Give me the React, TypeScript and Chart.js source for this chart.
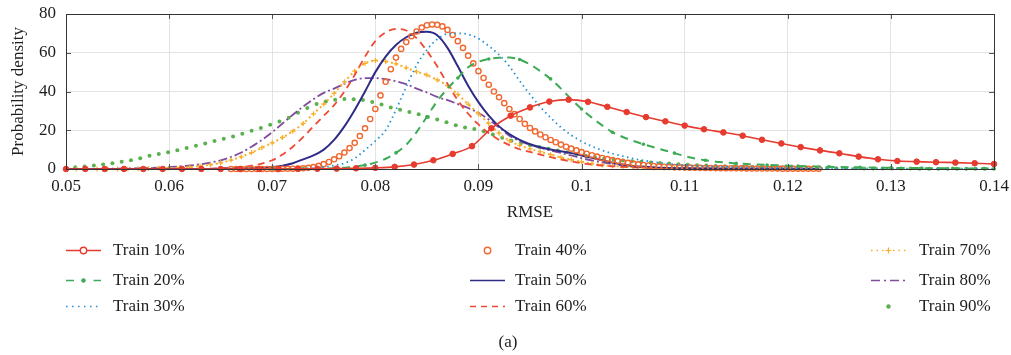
import { useEffect, useRef } from 'react';
import { Chart, registerables } from 'chart.js';

Chart.register(...registerables);

// ---------- tick labels ----------
const xTicks = [0.05, 0.06, 0.07, 0.08, 0.09, 0.1, 0.11, 0.12, 0.13, 0.14];
const yTicks = [0, 20, 40, 60, 80];

// ---------- x grids (RMSE) ----------
const rmseA = [0.050,0.051,0.052,0.053,0.054,0.055,0.056,0.057,0.058,0.059,0.060,0.061,0.062,0.063,0.064,0.065,0.066,0.067,0.068,0.069,0.070,0.071,0.072,0.073,0.074,0.075,0.076,0.077,0.078,0.079,0.080,0.081,0.082,0.083,0.084,0.085,0.086,0.087,0.088,0.089,0.090,0.091,0.092,0.093,0.094,0.095,0.096,0.097,0.098,0.099,0.100,0.101,0.102,0.103,0.104,0.105,0.106,0.107,0.108,0.109,0.110,0.111,0.112,0.113,0.114,0.115,0.116,0.117,0.118,0.119,0.120,0.121,0.122,0.123];
const rmseB = [0.070,0.071,0.072,0.073,0.074,0.075,0.076,0.077,0.078,0.079,0.080,0.081,0.082,0.083,0.084,0.085,0.086,0.087,0.088,0.089,0.090,0.091,0.092,0.093,0.094,0.095,0.096,0.097,0.098,0.099,0.100,0.101,0.102,0.103,0.104,0.105,0.106,0.107,0.108,0.109,0.110,0.111,0.112,0.113,0.114,0.115,0.116,0.117,0.118,0.119,0.120,0.121,0.122,0.123,0.124,0.125,0.126,0.127,0.128,0.129,0.130,0.131,0.132,0.133,0.134,0.135,0.136,0.137,0.138,0.139,0.140];
const rmse10 = [0.05,0.051875,0.05375,0.055625,0.0575,0.059375,0.06125,0.063125,0.065,0.066875,0.06875,0.070625,0.0725,0.074375,0.07625,0.078125,0.08,0.081875,0.08375,0.085625,0.0875,0.089375,0.09125,0.093125,0.095,0.096875,0.09875,0.100625,0.1025,0.104375,0.10625,0.108125,0.11,0.111875,0.11375,0.115625,0.1175,0.119375,0.12125,0.123125,0.125,0.126875,0.12875,0.130625,0.1325,0.134375,0.13625,0.138125,0.14];
const rmse40 = [0.0660,0.0665,0.0670,0.0675,0.0680,0.0685,0.0690,0.0695,0.0700,0.0705,0.0710,0.0715,0.0720,0.0725,0.0730,0.0735,0.0740,0.0745,0.0750,0.0755,0.0760,0.0765,0.0770,0.0775,0.0780,0.0785,0.0790,0.0795,0.0800,0.0805,0.0810,0.0815,0.0820,0.0825,0.0830,0.0835,0.0840,0.0845,0.0850,0.0855,0.0860,0.0865,0.0870,0.0875,0.0880,0.0885,0.0890,0.0895,0.0900,0.0905,0.0910,0.0915,0.0920,0.0925,0.0930,0.0935,0.0940,0.0945,0.0950,0.0955,0.0960,0.0965,0.0970,0.0975,0.0980,0.0985,0.0990,0.0995,0.1000,0.1005,0.1010,0.1015,0.1020,0.1025,0.1030,0.1035,0.1040,0.1045,0.1050,0.1055,0.1060,0.1065,0.1070,0.1075,0.1080,0.1085,0.1090,0.1095,0.1100,0.1105,0.1110,0.1115,0.1120,0.1125,0.1130,0.1135,0.1140,0.1145,0.1150,0.1155,0.1160,0.1165,0.1170,0.1175,0.1180,0.1185,0.1190,0.1195,0.1200,0.1205,0.1210,0.1215,0.1220,0.1225,0.1230];
const rmse90 = [0.0500,0.0509,0.0518,0.0527,0.0536,0.0545,0.0554,0.0563,0.0572,0.0581,0.0590,0.0599,0.0608,0.0617,0.0626,0.0635,0.0644,0.0653,0.0662,0.0671,0.0680,0.0689,0.0698,0.0707,0.0716,0.0725,0.0734,0.0743,0.0752,0.0761,0.0770,0.0779,0.0788,0.0797,0.0806,0.0815,0.0824,0.0833,0.0842,0.0851,0.0860,0.0869,0.0878,0.0887,0.0896,0.0905,0.0914,0.0923,0.0932,0.0941,0.0950,0.0959,0.0968,0.0977,0.0986,0.0995,0.1004,0.1013,0.1022,0.1031,0.1040,0.1049,0.1058,0.1067,0.1076,0.1085,0.1094,0.1103,0.1112,0.1121,0.1130,0.1139,0.1148,0.1157,0.1166,0.1175,0.1184,0.1193,0.1202,0.1211,0.1220,0.1229,0.1238,0.1247,0.1256,0.1265,0.1274,0.1283,0.1292,0.1301,0.1310,0.1319,0.1328,0.1337,0.1346,0.1355,0.1364,0.1373,0.1382,0.1391,0.1400];

// ---------- probability density values ----------
const train10 = [0,0,0,0,0,0,0,0,0,0,0,0,0.05,0.1,0.2,0.35,0.6,1.1,2.3,4.5,7.8,11.8,21,27.5,31.8,34.8,35.8,34.7,32.1,29.4,26.8,24.6,22.4,20.5,18.9,17.2,15.1,13.2,11.3,9.6,8.1,6.4,5.0,4.1,3.8,3.5,3.3,3.0,2.6];
const train20 = [0,0,0.05,0.1,0.15,0.25,0.4,0.7,1.2,2.0,3.3,5.3,8.3,12.5,19,27,35,41.5,47,52.5,55.3,56.8,57.4,57.5,56.5,54,50.5,46.5,41.5,36,31,26.5,22.5,19,16.5,14.5,12.8,11.2,9.7,8.2,6.7,5.4,4.5,3.8,3.3,2.9,2.6,2.3,2.1,1.9,1.7,1.55,1.4,1.25,1.1,1.0,0.9,0.82,0.74,0.67,0.6,0.55,0.5,0.45,0.41,0.37,0.34,0.31,0.28,0.25,0.23];
const train30 = [0,0.05,0.1,0.25,0.5,1.0,1.8,3.0,5.5,9.8,14.5,20,30.5,42.5,53.5,61.5,67,69.8,70,69.5,67.3,63.5,59,53,45.5,38.5,32,26.5,21.5,17.5,14.2,11.7,9.6,8.0,6.6,5.4,4.4,3.6,2.9,2.4,2.0,1.7,1.45,1.25,1.1,0.95,0.85,0.75,0.68,0.62,0.56,0.51,0.47,0.43,0.4,0.37,0.34,0.32,0.3,0.28,0.26,0.24,0.23,0.22,0.21,0.2,0.19,0.18,0.17,0.16,0.15];
const train40 = [0,0,0,0,0,0,0,0,0.05,0.05,0.1,0.1,0.15,0.2,0.35,0.6,1.0,1.6,2.5,3.6,5.0,6.6,8.5,10.8,13.5,17.0,21.0,25.8,31.0,38.0,45.0,51.5,57.5,62.0,65.5,68.5,71.0,73.0,74.2,74.6,74.4,73.6,71.8,69.2,66.0,62.5,58.5,54.5,50.5,47.0,43.5,40.0,37.0,34.0,31.0,28.3,25.8,23.3,21.2,19.4,17.8,16.4,15.0,13.8,12.6,11.5,10.5,9.6,8.7,7.9,7.1,6.4,5.7,5.1,4.6,4.1,3.6,3.2,2.8,2.4,2.1,1.8,1.55,1.35,1.2,1.05,0.95,0.85,0.75,0.7,0.65,0.6,0.55,0.5,0.47,0.44,0.41,0.38,0.35,0.33,0.31,0.29,0.27,0.25,0.23,0.22,0.2,0.19,0.18,0.17,0.16,0.15,0.14,0.13,0.12];
const train50 = [0,0,0,0,0,0,0,0,0,0,0,0,0,0,0.05,0.1,0.15,0.25,0.4,0.65,1.0,1.7,3.0,5.0,7.0,10.0,15.0,22.0,30.5,40.0,50.0,58.0,64.0,68.0,70.3,70.8,69.0,62.5,53.0,43.0,34.5,27.5,22.0,18.0,15.0,12.8,11.2,10.1,9.2,8.2,7.0,5.8,4.5,3.3,2.3,1.6,1.1,0.75,0.55,0.42,0.34,0.28,0.24,0.21,0.18,0.16,0.14,0.12,0.1,0.09,0.08,0.07,0.06,0.05];
const train60 = [0,0,0,0,0,0,0,0,0,0,0,0,0.05,0.1,0.2,0.35,0.6,1.0,1.7,2.8,4.5,7.5,11.5,16.5,22,27.5,33,40,48.5,58,66,70.5,72.3,71.5,67.5,61,53,44,35.5,28.5,23,18.5,15,12.3,10.2,8.8,7.4,6.1,4.9,3.9,3.0,2.3,1.8,1.4,1.1,0.85,0.65,0.5,0.4,0.32,0.26,0.22,0.19,0.17,0.15,0.13,0.12,0.11,0.1,0.09,0.08,0.07,0.06,0.05];
const train70 = [0,0,0,0,0,0,0.05,0.1,0.2,0.35,0.5,0.7,1.0,1.5,2.2,3.2,4.6,6.3,8.5,11,13.5,16.3,19.5,23.5,28.5,33.5,39,45,50.5,54.5,56,55.5,54.3,52.2,50.2,48.5,46,43,38.5,33.5,28.5,23.5,18.5,14.5,12.2,10.4,8.9,7.4,6.0,4.8,3.7,2.8,2.1,1.55,1.15,0.85,0.65,0.5,0.4,0.33,0.28,0.24,0.21,0.19,0.17,0.15,0.13,0.12,0.11,0.1,0.09,0.08,0.07,0.06];
const train80 = [0.05,0.05,0.1,0.1,0.15,0.2,0.3,0.4,0.55,0.75,1.0,1.3,1.8,2.4,3.3,4.5,6.2,8.5,11.5,15,19,23.5,28,32.2,36,39.3,41.5,44,46,46.9,46.9,46.4,45.3,43.8,41.5,39.5,37.2,35.5,33.5,31.5,29,25.5,21.5,17.2,14.5,12.5,11,9.6,8.3,7.0,5.6,4.4,3.4,2.5,1.8,1.3,0.9,0.65,0.5,0.4,0.32,0.27,0.23,0.2,0.17,0.15,0.13,0.11,0.1,0.09,0.08,0.07,0.06,0.05];
const train90 = [0.5,0.9,1.3,1.8,2.3,3.0,3.7,4.5,5.6,6.8,7.8,8.7,9.7,10.8,12.0,13.2,14.4,15.6,16.8,18.2,19.7,21.2,22.8,24.5,26.5,29.0,31.5,33.5,34.9,35.7,36.1,36.0,35.6,34.6,33.3,31.8,30.6,29.4,28.2,26.9,25.6,24.1,22.6,21.4,20.6,19.5,17.8,16.1,14.6,13.3,12.2,11.3,10.4,9.5,8.6,7.6,6.8,6.1,5.4,4.8,4.4,4.0,3.7,3.4,3.1,2.8,2.5,2.2,2.0,1.8,1.6,1.4,1.3,1.15,1.05,0.95,0.85,0.78,0.7,0.64,0.58,0.52,0.47,0.43,0.39,0.35,0.32,0.29,0.26,0.24,0.22,0.2,0.18,0.17,0.15,0.14,0.13,0.12,0.11,0.1,0.1];

const seriesLabels = ['Train 10%', 'Train 20%', 'Train 30%', 'Train 40%', 'Train 50%', 'Train 60%', 'Train 70%', 'Train 80%', 'Train 90%'];

const FONT = '"Liberation Serif", "Times New Roman", serif';

type Style = {
  color: string;
  line: boolean;
  dash: number[];
  legendDash: number[];
  width: number;
  marker: 'none' | 'openCircle' | 'dot' | 'cross';
  legendMarker: 'none' | 'openCircle' | 'dot' | 'cross';
};

const styles: Style[] = [
  { color: '#E63B2E', line: true, dash: [], legendDash: [], width: 1.6, marker: 'dot', legendMarker: 'openCircle' },
  { color: '#3DAA55', line: true, dash: [8, 6], legendDash: [8, 19.5], width: 2, marker: 'dot', legendMarker: 'dot' },
  { color: '#2190D8', line: true, dash: [1.5, 3.5], legendDash: [1.5, 4.5], width: 1.8, marker: 'none', legendMarker: 'none' },
  { color: '#F0672F', line: false, dash: [], legendDash: [], width: 1.4, marker: 'openCircle', legendMarker: 'openCircle' },
  { color: '#2F2C88', line: true, dash: [], legendDash: [], width: 2, marker: 'none', legendMarker: 'none' },
  { color: '#EE4A36', line: true, dash: [7, 5], legendDash: [6, 5], width: 1.8, marker: 'none', legendMarker: 'none' },
  { color: '#F7AE2A', line: true, dash: [2, 3], legendDash: [1.5, 4], width: 2, marker: 'cross', legendMarker: 'cross' },
  { color: '#7F4C9E', line: true, dash: [9, 3, 2, 3], legendDash: [9, 4, 2, 4], width: 1.8, marker: 'none', legendMarker: 'none' },
  { color: '#5BB04F', line: false, dash: [], legendDash: [], width: 1, marker: 'dot', legendMarker: 'dot' },
];

const legendCols = [
  { x0: 66, x1: 101, tx: 113 },
  { x0: 470, x1: 505, tx: 515 },
  { x0: 871, x1: 906, tx: 919 },
];
const legendRows = [250, 280, 306];

function pts(xs: number[], ys: number[]) {
  const n = Math.min(xs.length, ys.length);
  const out: { x: number; y: number }[] = [];
  for (let i = 0; i < n; i++) out.push({ x: xs[i], y: ys[i] });
  return out;
}

function drawMarker(ctx: CanvasRenderingContext2D, kind: string, x: number, y: number, color: string) {
  ctx.save();
  ctx.setLineDash([]);
  if (kind === 'openCircle') {
    ctx.beginPath();
    ctx.arc(x, y, 3.2, 0, Math.PI * 2);
    ctx.fillStyle = '#fff';
    ctx.fill();
    ctx.lineWidth = 1.4;
    ctx.strokeStyle = color;
    ctx.stroke();
  } else if (kind === 'dot') {
    ctx.beginPath();
    ctx.arc(x, y, 2.2, 0, Math.PI * 2);
    ctx.fillStyle = color;
    ctx.fill();
  } else if (kind === 'cross') {
    ctx.beginPath();
    ctx.moveTo(x - 3, y);
    ctx.lineTo(x + 3, y);
    ctx.moveTo(x, y - 3);
    ctx.lineTo(x, y + 3);
    ctx.lineWidth = 1.2;
    ctx.strokeStyle = color;
    ctx.stroke();
  }
  ctx.restore();
}

const decorPlugin = {
  id: 'decor',
  afterDraw(chart: any) {
    const { ctx, chartArea: a, scales } = chart;
    ctx.save();
    // inner tick marks
    ctx.strokeStyle = '#555';
    ctx.lineWidth = 1;
    ctx.setLineDash([]);
    ctx.beginPath();
    for (const v of xTicks) {
      const px = Math.round(scales.x.getPixelForValue(v)) + 0.5;
      ctx.moveTo(px, a.bottom);
      ctx.lineTo(px, a.bottom - 5);
      ctx.moveTo(px, a.top);
      ctx.lineTo(px, a.top + 5);
    }
    for (const v of yTicks) {
      const py = Math.round(scales.y.getPixelForValue(v)) + 0.5;
      ctx.moveTo(a.left, py);
      ctx.lineTo(a.left + 5, py);
      ctx.moveTo(a.right, py);
      ctx.lineTo(a.right - 5, py);
    }
    ctx.stroke();
    // frame
    ctx.strokeStyle = '#333';
    ctx.lineWidth = 1;
    ctx.strokeRect(Math.round(a.left) + 0.5, Math.round(a.top) + 0.5, Math.round(a.right - a.left), Math.round(a.bottom - a.top));

    // legend
    ctx.font = '17px ' + FONT;
    ctx.textBaseline = 'middle';
    ctx.textAlign = 'left';
    for (let i = 0; i < seriesLabels.length; i++) {
      const col = legendCols[Math.floor(i / 3)];
      const y = legendRows[i % 3];
      const st = styles[i];
      if (st.line) {
        ctx.save();
        ctx.beginPath();
        ctx.setLineDash(st.legendDash);
        ctx.lineWidth = Math.min(st.width, 1.6);
        ctx.strokeStyle = st.color;
        ctx.moveTo(col.x0, y + 0.5);
        ctx.lineTo(col.x1, y + 0.5);
        ctx.stroke();
        ctx.restore();
      }
      drawMarker(ctx, st.legendMarker, (col.x0 + col.x1) / 2, y + 0.5, st.color);
      ctx.fillStyle = '#1d1d1b';
      ctx.fillText(seriesLabels[i], col.tx, y + 1);
    }
    ctx.textAlign = 'center';
    ctx.fillText('(a)', 508, 343);
    ctx.restore();
  },
};

export default function App() {
  const ref = useRef<HTMLCanvasElement | null>(null);

  useEffect(() => {
    if (!ref.current) return;
    const xsList = [rmse10, rmseB, rmseB, rmse40, rmseA, rmseA, rmseA, rmseA, rmse90];
    const ysList = [train10, train20, train30, train40, train50, train60, train70, train80, train90];

    const datasets = seriesLabels.map((label, i) => {
      const st = styles[i];
      const base: any = {
        label,
        data: pts(xsList[i], ysList[i]),
        borderColor: st.color,
        backgroundColor: st.color,
        borderWidth: st.width,
        borderDash: st.dash,
        showLine: st.line,
        fill: false,
        tension: 0,
        cubicInterpolationMode: 'monotone',
        clip: 5,
        pointRadius: 0,
        pointHoverRadius: 0,
      };
      if (i === 0) {
        base.pointRadius = 2.8;
        base.pointBackgroundColor = st.color;
        base.pointBorderColor = st.color;
        base.pointBorderWidth = 1;
      } else if (i === 1) {
        base.pointRadius = (c: any) => (c.dataIndex % 3 === 0 ? 1.8 : 0);
        base.pointBackgroundColor = st.color;
        base.pointBorderWidth = 0;
      } else if (i === 3) {
        base.pointRadius = 2.6;
        base.pointBackgroundColor = 'rgba(255,255,255,0)';
        base.pointBorderColor = st.color;
        base.pointBorderWidth = 1.4;
      } else if (i === 6) {
        base.pointStyle = 'cross';
        base.pointRadius = 2.5;
        base.pointBorderColor = st.color;
        base.pointBorderWidth = 1.2;
      } else if (i === 8) {
        base.pointRadius = 2;
        base.pointBackgroundColor = st.color;
        base.pointBorderWidth = 0;
      }
      return base;
    });

    const chart = new Chart(ref.current, {
      type: 'line',
      data: { datasets },
      plugins: [decorPlugin],
      options: {
        animation: false,
        responsive: false,
        events: [],
        layout: { padding: { left: 0, top: 14, right: 17, bottom: 0 } },
        plugins: { legend: { display: false }, tooltip: { enabled: false } },
        scales: {
          x: {
            type: 'linear',
            min: 0.05,
            max: 0.14,
            afterBuildTicks: (s: any) => {
              s.ticks = xTicks.map((v) => ({ value: v }));
            },
            afterFit: (s: any) => {
              s.height = 186;
              s.paddingLeft = 0;
              s.paddingRight = 0;
            },
            grid: { color: '#e3e3e3', drawTicks: false, lineWidth: 1 },
            border: { display: false },
            ticks: {
              padding: 7,
              color: '#1d1d1b',
              font: { family: FONT, size: 17 },
              maxRotation: 0,
              autoSkip: false,
              callback: (v: any) => String(parseFloat(Number(v).toFixed(2))),
            },
            title: {
              display: true,
              text: 'RMSE',
              color: '#1d1d1b',
              font: { family: FONT, size: 17 },
              padding: { top: 0, bottom: 132 },
            },
          },
          y: {
            type: 'linear',
            min: 0,
            max: 80,
            afterBuildTicks: (s: any) => {
              s.ticks = yTicks.map((v) => ({ value: v }));
            },
            afterFit: (s: any) => {
              s.width = 66;
              s.paddingTop = 0;
              s.paddingBottom = 0;
            },
            grid: { color: '#e3e3e3', drawTicks: false, lineWidth: 1 },
            border: { display: false },
            ticks: {
              padding: 10,
              color: '#1d1d1b',
              font: { family: FONT, size: 17 },
            },
            title: {
              display: true,
              text: 'Probability density',
              color: '#1d1d1b',
              font: { family: FONT, size: 17 },
              padding: { top: 8, bottom: 0 },
            },
          },
        },
      },
    });
    return () => chart.destroy();
  }, []);

  return (
    <div style={{ position: 'fixed', left: 0, top: 0, width: 1011, height: 355, background: '#fff' }}>
      <canvas ref={ref} width={1011} height={355} style={{ width: 1011, height: 355, display: 'block' }} />
    </div>
  );
}
